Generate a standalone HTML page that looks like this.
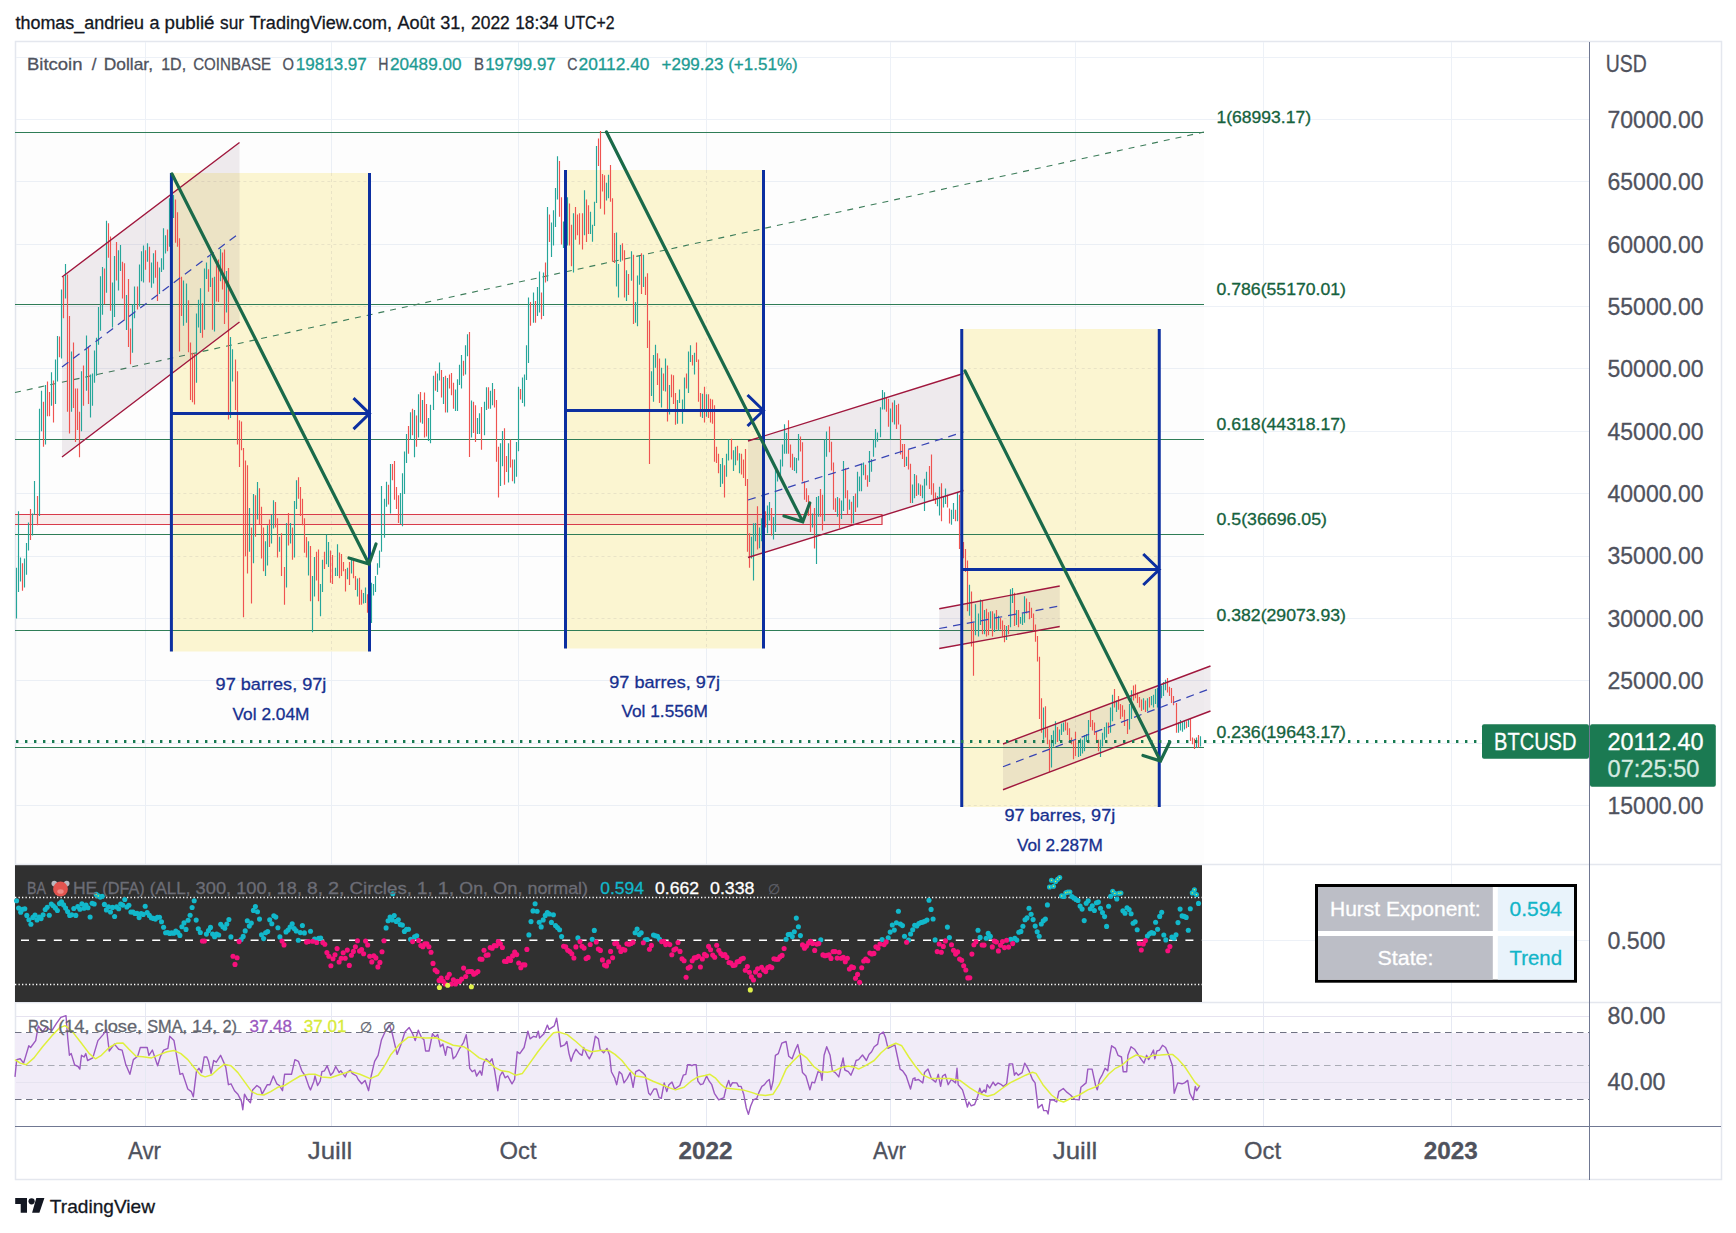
<!DOCTYPE html>
<html><head><meta charset="utf-8"><title>BTCUSD chart</title><style>html,body{margin:0;padding:0;background:#fff}svg{display:block}</style></head><body>
<svg width="1736" height="1233" viewBox="0 0 1736 1233" font-family='"Liberation Sans", sans-serif'>
<rect width="1736" height="1233" fill="#fff"/>
<rect x="15.5" y="41.5" width="1706" height="1138" fill="#fff" stroke="#e4e7ee" stroke-width="1.5"/>
<path d="M145.5 42V1126 M331.5 42V1126 M518.5 42V1126 M706.5 42V1126 M890.5 42V1126 M1075.5 42V1126 M1263.5 42V1126 M1451.5 42V1126 M16 57.5H1589 M16 119.5H1589 M16 181.5H1589 M16 244.5H1589 M16 306.5H1589 M16 368.5H1589 M16 431.5H1589 M16 493.5H1589 M16 556.5H1589 M16 618.5H1589 M16 680.5H1589 M16 743.5H1589 M16 805.5H1589 M16 940.5H1589 M16 1016.5H1589 M16 1082.5H1589" stroke="#edf1f7" stroke-width="1" fill="none"/>
<path d="M16 864.5H1721M16 1002.5H1721" stroke="#e4e7ee" stroke-width="1.5" fill="none"/>
<rect x="171.4" y="173" width="198.1" height="478.5" fill="#fdf7d3"/>
<rect x="565.5" y="170" width="198.0" height="478.5" fill="#fdf7d3"/>
<rect x="961.75" y="329" width="197.5" height="478" fill="#fdf7d3"/>
<rect x="15" y="132" width="1189" height="732" fill="#2f7d57" fill-opacity="0.011"/>
<path d="M331.5 173V651.5 M171.4 181.5H369.5 M171.4 244.5H369.5 M171.4 306.5H369.5 M171.4 368.5H369.5 M171.4 431.5H369.5 M171.4 493.5H369.5 M171.4 556.5H369.5 M171.4 618.5H369.5 M706.5 170V648.5 M565.5 181.5H763.5 M565.5 244.5H763.5 M565.5 306.5H763.5 M565.5 368.5H763.5 M565.5 431.5H763.5 M565.5 493.5H763.5 M565.5 556.5H763.5 M565.5 618.5H763.5 M1075.5 329V807 M961.75 368.5H1159.25 M961.75 431.5H1159.25 M961.75 493.5H1159.25 M961.75 556.5H1159.25 M961.75 618.5H1159.25 M961.75 680.5H1159.25 M961.75 743.5H1159.25 M961.75 805.5H1159.25" stroke="#e9e3c6" stroke-width="1" stroke-dasharray="3 3" fill="none"/>
<rect x="15" y="514.5" width="867" height="10" fill="#e9b0ac" fill-opacity="0.22" stroke="none"/>
<path d="M15 514.5H882V524.5H15" stroke="#d83a4a" stroke-width="1.2" fill="none"/>
<path d="M15 132.5H1204 M15 304.5H1204 M15 439.5H1204 M15 534.5H1204 M15 630.5H1204 M15 747.5H1204" stroke="#2f7d57" stroke-width="1" fill="none"/>
<path d="M15 392.5L1204 132" stroke="#3d7d5a" stroke-width="1.1" stroke-dasharray="6 6" fill="none"/>
<path d="M62 277L239.5 142.5L239.5 322L62 457Z" fill="#69415f" fill-opacity="0.1"/>
<path d="M748 441L963.5 373.5L963.5 490.5L748 557.5Z" fill="#69415f" fill-opacity="0.1"/>
<path d="M939.25 608.75L1059.75 586L1059.75 626.5L939.25 648.5Z" fill="#69415f" fill-opacity="0.1"/>
<path d="M1003 744L1210.5 666L1210.5 711L1003 789.75Z" fill="#69415f" fill-opacity="0.1"/>
<path d="M16.5 567.8V618.5M18.5 511.3V592.0M20.5 557.4V581.6M24.5 558.6V587.4M26.5 543.1V574.7M28.5 522.4V550.5M32.5 513.6V535.5M34.5 480.9V514.8M39.5 408.8V515.9M41.5 390.7V431.3M45.5 385.0V444.4M51.5 372.3V405.7M55.5 359.6V404.1M57.5 336.1V381.5M61.5 289.4V358.5M65.5 264.0V298.6M71.5 351.6V411.7M81.5 371.2V431.3M86.5 335.4V390.7M90.5 374.6V417.5M92.5 373.5V405.7M94.5 350.4V382.7M96.5 337.7V375.8M98.5 307.1V344.7M100.5 276.2V330.8M102.5 267.0V314.7M106.5 220.7V292.8M112.5 282.4V327.4M114.5 255.9V317.0M118.5 250.2V290.5M120.5 245.1V270.9M126.5 295.1V330.1M132.5 304.3V352.7M134.5 286.4V318.2M139.5 264.5V306.6M141.5 251.3V281.3M143.5 245.6V282.4M147.5 243.3V261.7M151.5 262.4V287.7M153.5 253.2V283.6M159.5 267.5V294.0M161.5 258.2V272.1M163.5 228.3V269.8M165.5 235.2V253.6M169.5 198.3V246.7M173.5 194.9V217.9M183.5 280.6V325.8M186.5 283.6V322.8M196.5 313.5V382.7M198.5 299.7V327.4M200.5 288.2V333.1M204.5 268.6V329.7M206.5 262.4V279.0M210.5 255.9V287.1M214.5 276.7V331.5M220.5 249.0V281.3M226.5 270.9V312.4M230.5 337.1V417.9M232.5 349.3V381.5M249.5 507.9V551.7M253.5 494.1V563.2M257.5 482.1V519.4M265.5 541.3V575.9M267.5 525.2V565.5M271.5 514.8V543.6M273.5 500.3V528.6M279.5 536.7V551.7M286.5 522.9V587.4M290.5 522.9V543.6M294.5 501.0V557.4M296.5 480.2V509.0M308.5 541.3V575.4M312.5 575.9V632.3M314.5 557.0V596.6M320.5 583.9V616.2M322.5 559.7V592.0M326.5 534.8V564.3M328.5 542.0V567.1M335.5 567.8V575.9M337.5 544.3V575.9M347.5 567.8V579.3M351.5 559.7V573.5M357.5 578.6V596.6M363.5 593.1V603.5M365.5 587.4V603.0M371.5 582.8V623.1M373.5 583.9V595.4M375.5 575.9V592.0M377.5 563.2V574.7M379.5 550.5V567.8M381.5 486.0V551.7M384.5 498.7V537.8M386.5 481.8V506.7M390.5 464.1V513.6M400.5 492.9V524.0M402.5 473.3V526.3M404.5 451.4V494.1M406.5 434.1V462.9M410.5 412.3V439.9M414.5 410.0V457.2M418.5 394.2V437.5M422.5 400.0V423.7M428.5 417.9V441.0M430.5 404.8V443.3M433.5 375.8V409.9M437.5 373.5V391.9M439.5 362.4V380.4M443.5 376.9V404.1M447.5 378.1V412.6M455.5 389.6V411.0M457.5 379.2V411.0M459.5 364.7V385.0M461.5 355.0V388.4M465.5 345.3V374.6M467.5 334.3V356.2M471.5 400.6V437.5M477.5 417.9V434.1M479.5 413.3V434.1M484.5 401.8V435.2M486.5 387.3V409.9M490.5 390.7V408.7M492.5 383.1V405.3M500.5 443.3V485.9M502.5 431.1V466.3M508.5 443.3V482.4M514.5 459.4V483.6M516.5 442.1V476.7M518.5 386.8V451.3M522.5 377.6V402.9M524.5 374.6V406.4M526.5 345.3V379.9M528.5 297.4V363.1M533.5 292.4V322.8M537.5 287.1V315.9M539.5 271.4V312.4M543.5 272.5V315.9M547.5 207.1V281.3M551.5 222.5V257.1M553.5 210.3V245.6M555.5 188.0V227.1M557.5 156.2V199.5M563.5 221.4V247.9M567.5 197.2V245.6M573.5 213.3V272.5M584.5 190.3V235.2M590.5 211.7V234.1M592.5 224.8V241.7M594.5 201.8V226.0M596.5 146.0V202.9M606.5 182.7V200.6M608.5 174.8V198.3M616.5 232.4V286.6M618.5 264.0V297.4M620.5 245.1V261.7M626.5 270.2V300.9M631.5 251.3V280.8M635.5 302.0V322.8M637.5 275.5V326.2M639.5 255.9V284.7M643.5 254.8V287.1M651.5 371.2V396.0M653.5 355.0V401.8M655.5 344.7V367.7M661.5 367.7V407.6M665.5 358.5V391.4M669.5 385.0V414.5M677.5 400.0V423.7M679.5 389.6V402.9M682.5 399.5V423.7M684.5 377.6V409.9M688.5 351.6V393.0M690.5 345.3V361.9M694.5 352.7V374.6M702.5 393.7V417.9M706.5 394.2V416.8M720.5 464.1V487.1M722.5 457.9V483.7M726.5 453.7V476.8M728.5 439.4V460.6M733.5 450.3V471.0M735.5 446.8V465.3M739.5 453.3V473.3M751.5 536.7V558.6M753.5 523.3V580.5M755.5 522.9V541.3M759.5 527.5V548.2M761.5 518.2V541.3M763.5 510.2V527.5M767.5 505.6V533.2M769.5 502.1V520.6M773.5 517.1V539.4M775.5 469.9V532.1M777.5 471.0V481.4M780.5 459.5V477.9M782.5 444.5V466.4M784.5 424.2V453.7M786.5 433.0V453.7M794.5 457.2V471.0M796.5 457.9V473.3M798.5 434.1V460.6M812.5 513.6V527.5M816.5 497.1V563.9M818.5 495.9V516.7M824.5 439.5V521.3M826.5 431.4V456.8M837.5 497.1V516.7M841.5 500.6V519.0M843.5 460.9V510.9M849.5 499.4V509.8M853.5 495.9V523.6M857.5 471.8V507.5M859.5 476.4V491.3M861.5 463.7V491.3M863.5 462.5V475.2M869.5 451.0V482.1M871.5 459.1V471.8M873.5 439.5V456.8M875.5 429.1V447.6M877.5 432.6V441.8M880.5 407.2V437.2M882.5 390.0V409.5M884.5 392.3V409.5M890.5 408.4V439.5M894.5 400.3V424.5M906.5 456.8V466.0M912.5 484.4V502.9M914.5 474.1V498.2M918.5 483.3V494.8M922.5 485.6V498.2M924.5 478.7V510.9M926.5 471.8V485.6M937.5 495.9V506.3M939.5 486.7V515.5M943.5 495.9V507.5M945.5 488.6V504.0M951.5 509.8V524.7M953.5 502.9V519.0M957.5 492.5V521.3M969.5 584.7V615.8M975.5 604.2V635.3M978.5 613.5V636.5M980.5 599.6V625.0M984.5 610.0V634.2M990.5 611.2V628.4M994.5 613.5V631.9M998.5 615.8V630.7M1006.5 626.1V640.0M1010.5 589.3V627.3M1012.5 588.1V603.1M1016.5 610.0V625.0M1020.5 616.9V623.8M1022.5 613.5V625.0M1024.5 596.2V622.7M1043.5 707.5V739.7M1051.5 735.1V767.4M1053.5 730.5V746.6M1055.5 721.3V744.3M1059.5 729.4V740.9M1061.5 723.6V735.1M1063.5 722.4V731.7M1078.5 742.0V757.0M1080.5 738.6V755.9M1082.5 739.7V753.5M1084.5 735.1V751.2M1086.5 734.0V742.0M1088.5 720.1V742.0M1100.5 739.7V757.0M1102.5 732.8V746.6M1104.5 727.1V739.7M1106.5 722.4V737.4M1110.5 707.5V732.8M1112.5 694.8V721.3M1116.5 700.6V712.1M1129.5 704.0V729.4M1131.5 690.2V719.0M1143.5 698.2V709.8M1147.5 698.2V710.9M1151.5 695.9V705.2M1153.5 694.8V707.5M1155.5 689.0V704.0M1157.5 687.9V707.5M1161.5 685.6V698.2M1163.5 682.1V695.9M1165.5 679.8V690.2M1178.5 722.4V732.8M1180.5 720.1V730.5M1182.5 721.3V731.7M1184.5 720.1V729.4M1188.5 720.1V727.1M1196.5 737.4V747.8M1200.5 736.3V746.6" stroke="#26a69a" stroke-width="1.15" fill="none"/>
<path d="M22.5 563.2V590.8M30.5 509.0V540.1M37.5 495.9V525.2M43.5 401.8V446.7M47.5 381.5V416.3M49.5 391.9V416.3M53.5 380.4V422.5M59.5 336.6V357.3M63.5 276.7V318.2M67.5 274.4V411.7M69.5 315.9V433.4M73.5 342.4V408.0M75.5 388.4V442.1M77.5 388.4V430.1M79.5 411.7V457.3M83.5 365.4V405.7M88.5 347.0V404.1M104.5 268.6V304.3M108.5 223.2V257.8M110.5 236.4V310.8M116.5 242.1V280.6M122.5 261.7V298.6M124.5 263.3V320.5M128.5 279.0V347.0M130.5 328.5V364.2M137.5 286.4V309.4M145.5 250.2V269.8M149.5 246.7V282.4M155.5 250.2V277.8M157.5 261.7V300.9M167.5 229.4V251.3M171.5 183.4V227.8M175.5 199.5V242.8M177.5 212.2V246.7M179.5 238.2V351.6M181.5 276.7V315.9M188.5 300.2V352.3M190.5 342.4V400.0M192.5 352.7V402.3M194.5 353.9V404.6M202.5 303.2V337.7M208.5 269.3V291.7M212.5 277.8V329.7M216.5 265.2V301.6M218.5 259.4V302.0M222.5 252.5V289.4M224.5 249.5V323.9M228.5 267.9V419.5M235.5 359.6V409.9M237.5 371.2V444.5M239.5 420.3V467.1M241.5 421.5V450.3M243.5 448.0V617.3M245.5 460.6V556.3M247.5 465.3V573.5M251.5 527.5V603.5M255.5 495.2V536.7M259.5 488.3V524.0M261.5 506.7V558.6M263.5 527.5V571.2M269.5 519.4V547.1M275.5 502.1V527.5M277.5 518.2V557.4M281.5 533.2V575.9M284.5 567.1V604.7M288.5 512.9V545.4M292.5 527.5V559.7M298.5 477.2V498.7M300.5 487.1V515.9M302.5 498.7V525.2M304.5 518.2V552.8M306.5 537.1V557.4M310.5 545.9V601.2M316.5 551.7V580.5M318.5 549.4V601.2M324.5 551.7V568.9M330.5 550.5V582.8M332.5 555.1V583.9M339.5 552.4V578.2M341.5 554.0V575.9M343.5 562.0V571.2M345.5 568.9V591.5M349.5 562.0V585.1M353.5 559.7V578.2M355.5 575.9V590.1M359.5 577.7V604.7M361.5 589.7V604.7M367.5 594.3V612.7M369.5 604.7V626.5M388.5 484.8V504.4M392.5 464.1V480.2M394.5 461.1V499.8M396.5 487.1V509.0M398.5 495.2V522.9M408.5 426.1V453.7M412.5 408.8V435.3M416.5 415.6V446.7M420.5 391.9V422.5M424.5 392.6V437.5M426.5 404.1V436.4M435.5 371.2V390.7M441.5 370.0V397.6M445.5 375.8V412.6M449.5 374.6V388.4M451.5 373.0V395.3M453.5 382.7V408.7M463.5 360.8V375.8M469.5 332.0V457.1M473.5 401.8V432.9M475.5 405.3V442.1M481.5 407.1V449.7M488.5 387.3V408.7M494.5 389.1V407.6M496.5 400.0V461.7M498.5 446.7V497.4M504.5 428.3V484.7M506.5 455.9V472.1M510.5 439.4V467.5M512.5 459.4V481.3M520.5 389.1V399.5M530.5 302.0V325.8M535.5 300.9V322.8M541.5 292.4V319.3M545.5 262.4V282.4M549.5 214.5V242.1M559.5 161.0V216.8M561.5 197.2V244.4M565.5 224.8V250.2M569.5 203.4V245.6M571.5 224.8V266.3M575.5 207.1V239.8M577.5 214.5V235.2M579.5 213.3V244.4M582.5 213.3V249.5M586.5 199.5V242.1M588.5 205.3V234.1M598.5 138.4V166.1M600.5 131.1V208.7M602.5 174.1V191.4M604.5 175.3V214.5M610.5 164.9V201.8M612.5 198.3V261.7M614.5 232.9V262.9M622.5 243.3V260.6M624.5 250.2V297.4M628.5 273.9V295.1M633.5 254.8V323.9M641.5 253.2V294.0M645.5 276.7V295.1M647.5 273.2V348.1M649.5 320.5V464.0M657.5 353.2V385.0M659.5 358.5V402.9M663.5 373.5V390.7M667.5 365.4V421.4M671.5 374.6V397.2M673.5 375.3V404.1M675.5 393.0V424.8M686.5 373.5V388.4M692.5 355.0V365.4M696.5 342.4V361.9M698.5 359.6V401.8M700.5 393.0V416.8M704.5 386.8V422.5M708.5 394.2V417.9M710.5 398.8V422.5M712.5 399.5V423.7M714.5 405.3V461.8M716.5 446.8V462.9M718.5 453.7V473.3M724.5 465.3V497.5M731.5 438.8V459.5M737.5 445.7V460.6M741.5 453.7V474.5M743.5 459.5V477.9M745.5 449.1V486.0M747.5 479.1V551.7M749.5 533.2V567.8M757.5 506.3V549.4M765.5 511.3V527.5M771.5 507.9V535.5M788.5 420.3V453.7M790.5 444.5V467.6M792.5 453.7V469.9M800.5 436.5V451.4M802.5 442.2V481.4M804.5 481.4V499.8M806.5 488.3V502.1M808.5 495.2V515.9M810.5 502.1V532.1M814.5 508.1V548.4M820.5 489.0V516.7M822.5 494.8V530.5M829.5 426.4V452.2M831.5 441.8V470.6M833.5 462.5V509.8M835.5 498.2V512.1M839.5 498.2V528.2M845.5 468.3V498.2M847.5 490.2V514.4M851.5 501.7V523.6M855.5 493.6V512.1M865.5 464.8V479.8M867.5 475.2V486.7M886.5 398.0V411.8M888.5 398.7V426.8M892.5 402.6V422.2M896.5 404.9V429.1M898.5 403.8V424.5M900.5 424.5V454.5M902.5 444.1V459.1M904.5 444.1V467.1M908.5 449.9V469.4M910.5 463.7V502.9M916.5 475.2V495.9M920.5 484.4V495.9M929.5 466.0V489.0M931.5 454.5V494.8M933.5 483.3V500.6M935.5 492.5V504.0M941.5 483.3V521.3M947.5 494.8V507.5M949.5 508.6V523.6M955.5 509.8V521.3M959.5 494.8V548.9M961.5 535.1V548.9M963.5 542.0V558.2M965.5 548.9V572.0M967.5 560.5V611.2M971.5 591.6V646.4M973.5 622.7V675.7M982.5 600.8V634.2M986.5 608.8V636.5M988.5 612.3V635.3M992.5 611.2V636.5M996.5 610.0V629.6M1000.5 618.1V629.6M1002.5 620.4V636.5M1004.5 625.0V642.3M1008.5 625.0V634.2M1014.5 592.7V626.1M1018.5 610.0V627.3M1026.5 598.5V613.5M1029.5 601.9V619.2M1031.5 607.7V618.1M1033.5 613.5V630.7M1035.5 624.5V641.8M1037.5 636.0V661.4M1039.5 656.8V719.0M1041.5 698.2V732.8M1045.5 706.3V737.4M1047.5 728.2V744.3M1049.5 739.7V772.0M1057.5 727.1V742.0M1065.5 720.1V730.5M1067.5 722.4V735.1M1069.5 728.2V742.0M1071.5 737.4V744.3M1073.5 740.9V759.3M1075.5 731.7V755.9M1090.5 710.9V727.1M1092.5 720.1V730.5M1094.5 722.4V735.1M1096.5 731.7V742.0M1098.5 739.7V751.2M1108.5 722.4V734.0M1114.5 689.0V707.5M1118.5 695.9V709.8M1120.5 704.0V719.0M1122.5 705.2V716.7M1124.5 709.8V725.9M1127.5 719.0V734.0M1133.5 685.6V700.6M1135.5 684.4V698.2M1137.5 692.5V702.9M1139.5 697.1V707.5M1141.5 699.4V710.9M1145.5 700.6V712.1M1149.5 697.1V707.5M1159.5 681.0V702.9M1167.5 678.0V692.5M1169.5 686.7V695.9M1171.5 687.9V702.9M1173.5 695.9V705.2M1176.5 702.9V732.8M1186.5 721.3V728.2M1190.5 719.0V740.9M1192.5 737.4V744.3M1194.5 738.6V748.9M1198.5 735.1V747.8" stroke="#ef5350" stroke-width="1.15" fill="none"/>
<path d="M62 277L239.5 142.5M62 457L239.5 322" stroke="#a0173d" stroke-width="1.4" fill="none"/>
<path d="M62 367L239.5 233" stroke="#3744b4" stroke-width="1.25" stroke-dasharray="8 6" fill="none"/>
<path d="M748 441L963.5 373.5M748 557.5L963.5 490.5" stroke="#a0173d" stroke-width="1.4" fill="none"/>
<path d="M748 500L963.5 432" stroke="#3744b4" stroke-width="1.25" stroke-dasharray="8 6" fill="none"/>
<path d="M939.25 608.75L1059.75 586M939.25 648.5L1059.75 626.5" stroke="#a0173d" stroke-width="1.4" fill="none"/>
<path d="M939.25 628.5L1059.75 606" stroke="#3744b4" stroke-width="1.25" stroke-dasharray="8 6" fill="none"/>
<path d="M1003 744L1210.5 666M1003 789.75L1210.5 711" stroke="#a0173d" stroke-width="1.4" fill="none"/>
<path d="M1003 766.75L1210.5 688.5" stroke="#3744b4" stroke-width="1.25" stroke-dasharray="8 6" fill="none"/>
<path d="M171.4 173V651.5M369.5 173V651.5M171.4 413.6H369.5M353.5 398.1L369.5 413.6L353.5 429.1" stroke="#0c2fa0" stroke-width="3" fill="none"/>
<path d="M565.5 170V648.5M763.5 170V648.5M565.5 410.5H763.5M747.5 395.0L763.5 410.5L747.5 426.0" stroke="#0c2fa0" stroke-width="3" fill="none"/>
<path d="M961.75 329V807M1159.25 329V807M961.75 569.5H1159.25M1143.25 554.0L1159.25 569.5L1143.25 585.0" stroke="#0c2fa0" stroke-width="3" fill="none"/>
<path d="M172 174L369 564M376 544L369 564L349 558" stroke="#1a6a4a" stroke-width="3.2" fill="none" stroke-linecap="round"/>
<path d="M606.5 132L802.75 521.75M809.75 503L802.75 521.75L784 516" stroke="#1a6a4a" stroke-width="3.2" fill="none" stroke-linecap="round"/>
<path d="M965 371L1160.5 761M1169.75 742L1160.5 761L1143 755.5" stroke="#1a6a4a" stroke-width="3.2" fill="none" stroke-linecap="round"/>
<path d="M16 741.5H1478" stroke="#187a52" stroke-width="3" stroke-dasharray="2.4 6.6" fill="none"/>
<text x="15.5" y="29.0" font-size="18" fill="#131722" stroke="#131722" stroke-width="0.3" textLength="128.5" lengthAdjust="spacingAndGlyphs">thomas_andrieu</text>
<text x="149.5" y="29.0" font-size="18" fill="#131722" stroke="#131722" stroke-width="0.3">a</text>
<text x="164.5" y="29.0" font-size="18" fill="#131722" stroke="#131722" stroke-width="0.3" textLength="50.0" lengthAdjust="spacingAndGlyphs">publié</text>
<text x="220.0" y="29.0" font-size="18" fill="#131722" stroke="#131722" stroke-width="0.3" textLength="24.0" lengthAdjust="spacingAndGlyphs">sur</text>
<text x="249.5" y="29.0" font-size="18" fill="#131722" stroke="#131722" stroke-width="0.3" textLength="142.5" lengthAdjust="spacingAndGlyphs">TradingView.com,</text>
<text x="397.5" y="29.0" font-size="18" fill="#131722" stroke="#131722" stroke-width="0.3" textLength="37.2" lengthAdjust="spacingAndGlyphs">Août</text>
<text x="440.2" y="29.0" font-size="18" fill="#131722" stroke="#131722" stroke-width="0.3" textLength="25.2" lengthAdjust="spacingAndGlyphs">31,</text>
<text x="471.0" y="29.0" font-size="18" fill="#131722" stroke="#131722" stroke-width="0.3" textLength="38.8" lengthAdjust="spacingAndGlyphs">2022</text>
<text x="515.2" y="29.0" font-size="18" fill="#131722" stroke="#131722" stroke-width="0.3" textLength="43.2" lengthAdjust="spacingAndGlyphs">18:34</text>
<text x="564.0" y="29.0" font-size="18" fill="#131722" stroke="#131722" stroke-width="0.3" textLength="50.5" lengthAdjust="spacingAndGlyphs">UTC+2</text>
<text x="27.0" y="69.5" font-size="17" fill="#4f525d" stroke="#4f525d" stroke-width="0.3" textLength="55.5" lengthAdjust="spacingAndGlyphs">Bitcoin</text>
<text x="91.8" y="69.5" font-size="17" fill="#4f525d" stroke="#4f525d" stroke-width="0.3">/</text>
<text x="103.8" y="69.5" font-size="17" fill="#4f525d" stroke="#4f525d" stroke-width="0.3" textLength="49.2" lengthAdjust="spacingAndGlyphs">Dollar,</text>
<text x="161.2" y="69.5" font-size="17" fill="#4f525d" stroke="#4f525d" stroke-width="0.3" textLength="24.9" lengthAdjust="spacingAndGlyphs">1D,</text>
<text x="193.2" y="69.5" font-size="17" fill="#4f525d" stroke="#4f525d" stroke-width="0.3" textLength="78.0" lengthAdjust="spacingAndGlyphs">COINBASE</text>
<text x="282.5" y="69.5" font-size="17" fill="#4f525d" stroke="#4f525d" stroke-width="0.3" textLength="11.5" lengthAdjust="spacingAndGlyphs">O</text>
<text x="295.8" y="69.5" font-size="17" fill="#1d9b93" stroke="#1d9b93" stroke-width="0.3" textLength="71.0" lengthAdjust="spacingAndGlyphs">19813.97</text>
<text x="378.2" y="69.5" font-size="17" fill="#4f525d" stroke="#4f525d" stroke-width="0.3" textLength="10.2" lengthAdjust="spacingAndGlyphs">H</text>
<text x="390.0" y="69.5" font-size="17" fill="#1d9b93" stroke="#1d9b93" stroke-width="0.3" textLength="71.5" lengthAdjust="spacingAndGlyphs">20489.00</text>
<text x="474.0" y="69.5" font-size="17" fill="#4f525d" stroke="#4f525d" stroke-width="0.3" textLength="10.0" lengthAdjust="spacingAndGlyphs">B</text>
<text x="485.2" y="69.5" font-size="17" fill="#1d9b93" stroke="#1d9b93" stroke-width="0.3" textLength="70.5" lengthAdjust="spacingAndGlyphs">19799.97</text>
<text x="567.2" y="69.5" font-size="17" fill="#4f525d" stroke="#4f525d" stroke-width="0.3" textLength="10.2" lengthAdjust="spacingAndGlyphs">C</text>
<text x="578.5" y="69.5" font-size="17" fill="#1d9b93" stroke="#1d9b93" stroke-width="0.3" textLength="71.0" lengthAdjust="spacingAndGlyphs">20112.40</text>
<text x="661.5" y="69.5" font-size="17" fill="#1d9b93" stroke="#1d9b93" stroke-width="0.3" textLength="136.2" lengthAdjust="spacingAndGlyphs">+299.23 (+1.51%)</text>
<text x="1216.5" y="122.7" font-size="17" fill="#15623d" stroke="#15623d" stroke-width="0.3" textLength="94.5" lengthAdjust="spacingAndGlyphs">1(68993.17)</text>
<text x="1216.5" y="294.7" font-size="17" fill="#15623d" stroke="#15623d" stroke-width="0.3" textLength="129.5" lengthAdjust="spacingAndGlyphs">0.786(55170.01)</text>
<text x="1216.5" y="429.7" font-size="17" fill="#15623d" stroke="#15623d" stroke-width="0.3" textLength="129.5" lengthAdjust="spacingAndGlyphs">0.618(44318.17)</text>
<text x="1216.5" y="524.7" font-size="17" fill="#15623d" stroke="#15623d" stroke-width="0.3" textLength="110.5" lengthAdjust="spacingAndGlyphs">0.5(36696.05)</text>
<text x="1216.5" y="620.7" font-size="17" fill="#15623d" stroke="#15623d" stroke-width="0.3" textLength="129.5" lengthAdjust="spacingAndGlyphs">0.382(29073.93)</text>
<text x="1216.5" y="737.7" font-size="17" fill="#15623d" stroke="#15623d" stroke-width="0.3" textLength="129.5" lengthAdjust="spacingAndGlyphs">0.236(19643.17)</text>
<text x="215.6" y="690.0" font-size="17" fill="#17308f" stroke="#17308f" stroke-width="0.3" textLength="110.8" lengthAdjust="spacingAndGlyphs">97 barres, 97j</text>
<text x="232.5" y="720.0" font-size="17" fill="#17308f" stroke="#17308f" stroke-width="0.3" textLength="77.0" lengthAdjust="spacingAndGlyphs">Vol 2.04M</text>
<text x="609.2" y="687.8" font-size="17" fill="#17308f" stroke="#17308f" stroke-width="0.3" textLength="110.8" lengthAdjust="spacingAndGlyphs">97 barres, 97j</text>
<text x="621.4" y="717.2" font-size="17" fill="#17308f" stroke="#17308f" stroke-width="0.3" textLength="86.5" lengthAdjust="spacingAndGlyphs">Vol 1.556M</text>
<text x="1004.5" y="820.5" font-size="17" fill="#17308f" stroke="#17308f" stroke-width="0.3" textLength="110.8" lengthAdjust="spacingAndGlyphs">97 barres, 97j</text>
<text x="1016.9" y="850.5" font-size="17" fill="#17308f" stroke="#17308f" stroke-width="0.3" textLength="86.0" lengthAdjust="spacingAndGlyphs">Vol 2.287M</text>
<rect x="15" y="865.2" width="1187" height="136.8" fill="#303030"/>
<path d="M15 897.5H1202M15 984.5H1202" stroke="#fff" stroke-width="1.3" stroke-dasharray="1.3 2.2" fill="none"/>
<path d="M21 940.3H1202" stroke="#fff" stroke-width="1.5" stroke-dasharray="8 8.4" fill="none"/>
<g fill="#12b8cb"><circle cx="16.6" cy="900.8" r="2.55"/><circle cx="18.6" cy="908.1" r="2.55"/><circle cx="20.7" cy="912.3" r="2.55"/><circle cx="22.7" cy="909.2" r="2.55"/><circle cx="24.8" cy="908.7" r="2.55"/><circle cx="26.8" cy="915.4" r="2.55"/><circle cx="28.9" cy="919.7" r="2.55"/><circle cx="30.9" cy="924.3" r="2.55"/><circle cx="32.9" cy="917.4" r="2.55"/><circle cx="35.0" cy="915.1" r="2.55"/><circle cx="37.0" cy="919.9" r="2.55"/><circle cx="39.1" cy="917.0" r="2.55"/><circle cx="41.1" cy="918.6" r="2.55"/><circle cx="43.1" cy="914.8" r="2.55"/><circle cx="45.2" cy="909.5" r="2.55"/><circle cx="47.2" cy="907.2" r="2.55"/><circle cx="49.3" cy="915.3" r="2.55"/><circle cx="51.3" cy="904.0" r="2.55"/><circle cx="53.3" cy="905.7" r="2.55"/><circle cx="55.4" cy="907.9" r="2.55"/><circle cx="57.4" cy="910.5" r="2.55"/><circle cx="59.5" cy="903.6" r="2.55"/><circle cx="61.5" cy="901.9" r="2.55"/><circle cx="63.6" cy="904.9" r="2.55"/><circle cx="65.6" cy="908.1" r="2.55"/><circle cx="67.6" cy="911.6" r="2.55"/><circle cx="69.7" cy="915.4" r="2.55"/><circle cx="71.7" cy="914.7" r="2.55"/><circle cx="73.8" cy="908.5" r="2.55"/><circle cx="75.8" cy="915.4" r="2.55"/><circle cx="77.8" cy="906.6" r="2.55"/><circle cx="79.9" cy="909.3" r="2.55"/><circle cx="81.9" cy="903.9" r="2.55"/><circle cx="84.0" cy="908.3" r="2.55"/><circle cx="86.0" cy="905.0" r="2.55"/><circle cx="88.0" cy="907.8" r="2.55"/><circle cx="90.1" cy="917.0" r="2.55"/><circle cx="92.1" cy="903.3" r="2.55"/><circle cx="94.2" cy="904.0" r="2.55"/><circle cx="100.3" cy="897.1" r="2.55"/><circle cx="102.3" cy="896.3" r="2.55"/><circle cx="104.4" cy="904.4" r="2.55"/><circle cx="106.4" cy="909.9" r="2.55"/><circle cx="108.5" cy="906.7" r="2.55"/><circle cx="110.5" cy="912.0" r="2.55"/><circle cx="112.5" cy="907.4" r="2.55"/><circle cx="114.6" cy="916.5" r="2.55"/><circle cx="116.6" cy="906.9" r="2.55"/><circle cx="118.7" cy="908.7" r="2.55"/><circle cx="120.7" cy="904.1" r="2.55"/><circle cx="122.7" cy="905.1" r="2.55"/><circle cx="124.8" cy="899.5" r="2.55"/><circle cx="126.8" cy="907.0" r="2.55"/><circle cx="128.9" cy="905.2" r="2.55"/><circle cx="130.9" cy="912.0" r="2.55"/><circle cx="133.0" cy="912.0" r="2.55"/><circle cx="135.0" cy="913.5" r="2.55"/><circle cx="137.0" cy="913.4" r="2.55"/><circle cx="139.1" cy="917.6" r="2.55"/><circle cx="141.1" cy="913.5" r="2.55"/><circle cx="143.2" cy="914.4" r="2.55"/><circle cx="145.2" cy="906.3" r="2.55"/><circle cx="147.2" cy="912.5" r="2.55"/><circle cx="149.3" cy="915.4" r="2.55"/><circle cx="151.3" cy="917.7" r="2.55"/><circle cx="153.4" cy="918.4" r="2.55"/><circle cx="155.4" cy="919.1" r="2.55"/><circle cx="157.4" cy="917.2" r="2.55"/><circle cx="159.5" cy="917.3" r="2.55"/><circle cx="161.5" cy="921.7" r="2.55"/><circle cx="163.6" cy="927.3" r="2.55"/><circle cx="165.6" cy="932.7" r="2.55"/><circle cx="167.7" cy="932.6" r="2.55"/><circle cx="169.7" cy="933.4" r="2.55"/><circle cx="171.7" cy="932.9" r="2.55"/><circle cx="173.8" cy="933.2" r="2.55"/><circle cx="175.8" cy="931.0" r="2.55"/><circle cx="177.9" cy="932.5" r="2.55"/><circle cx="179.9" cy="935.4" r="2.55"/><circle cx="181.9" cy="926.7" r="2.55"/><circle cx="184.0" cy="922.9" r="2.55"/><circle cx="186.0" cy="929.4" r="2.55"/><circle cx="188.1" cy="920.3" r="2.55"/><circle cx="190.1" cy="915.3" r="2.55"/><circle cx="192.1" cy="907.5" r="2.55"/><circle cx="194.2" cy="900.8" r="2.55"/><circle cx="196.2" cy="920.1" r="2.55"/><circle cx="198.3" cy="928.7" r="2.55"/><circle cx="200.3" cy="932.5" r="2.55"/><circle cx="206.4" cy="934.1" r="2.55"/><circle cx="208.5" cy="930.6" r="2.55"/><circle cx="210.5" cy="927.4" r="2.55"/><circle cx="212.6" cy="934.0" r="2.55"/><circle cx="214.6" cy="936.7" r="2.55"/><circle cx="216.6" cy="934.1" r="2.55"/><circle cx="218.7" cy="935.0" r="2.55"/><circle cx="220.7" cy="924.2" r="2.55"/><circle cx="222.8" cy="926.7" r="2.55"/><circle cx="224.8" cy="928.3" r="2.55"/><circle cx="226.8" cy="924.1" r="2.55"/><circle cx="228.9" cy="919.5" r="2.55"/><circle cx="230.9" cy="936.9" r="2.55"/><circle cx="241.1" cy="939.5" r="2.55"/><circle cx="243.2" cy="936.4" r="2.55"/><circle cx="245.2" cy="930.9" r="2.55"/><circle cx="247.3" cy="920.7" r="2.55"/><circle cx="249.3" cy="926.1" r="2.55"/><circle cx="251.3" cy="923.0" r="2.55"/><circle cx="253.4" cy="910.4" r="2.55"/><circle cx="255.4" cy="906.5" r="2.55"/><circle cx="257.5" cy="911.8" r="2.55"/><circle cx="259.5" cy="919.1" r="2.55"/><circle cx="261.5" cy="934.8" r="2.55"/><circle cx="263.6" cy="938.6" r="2.55"/><circle cx="265.6" cy="932.8" r="2.55"/><circle cx="267.7" cy="931.5" r="2.55"/><circle cx="269.7" cy="919.8" r="2.55"/><circle cx="271.8" cy="923.7" r="2.55"/><circle cx="273.8" cy="915.7" r="2.55"/><circle cx="275.8" cy="917.1" r="2.55"/><circle cx="277.9" cy="927.7" r="2.55"/><circle cx="279.9" cy="936.9" r="2.55"/><circle cx="286.0" cy="931.9" r="2.55"/><circle cx="288.1" cy="930.1" r="2.55"/><circle cx="290.1" cy="927.0" r="2.55"/><circle cx="292.2" cy="923.9" r="2.55"/><circle cx="294.2" cy="928.6" r="2.55"/><circle cx="296.2" cy="930.9" r="2.55"/><circle cx="298.3" cy="940.2" r="2.55"/><circle cx="300.3" cy="932.6" r="2.55"/><circle cx="302.4" cy="925.5" r="2.55"/><circle cx="304.4" cy="932.9" r="2.55"/><circle cx="310.5" cy="931.2" r="2.55"/><circle cx="314.6" cy="939.1" r="2.55"/><circle cx="318.7" cy="938.2" r="2.55"/><circle cx="320.7" cy="938.1" r="2.55"/><circle cx="386.1" cy="927.9" r="2.55"/><circle cx="388.1" cy="920.8" r="2.55"/><circle cx="390.1" cy="917.1" r="2.55"/><circle cx="392.2" cy="919.9" r="2.55"/><circle cx="394.2" cy="915.5" r="2.55"/><circle cx="396.3" cy="921.4" r="2.55"/><circle cx="398.3" cy="919.8" r="2.55"/><circle cx="400.3" cy="924.6" r="2.55"/><circle cx="402.4" cy="925.1" r="2.55"/><circle cx="404.4" cy="931.4" r="2.55"/><circle cx="406.5" cy="929.3" r="2.55"/><circle cx="408.5" cy="929.3" r="2.55"/><circle cx="410.6" cy="939.2" r="2.55"/><circle cx="414.6" cy="936.8" r="2.55"/><circle cx="416.7" cy="935.7" r="2.55"/><circle cx="528.9" cy="934.9" r="2.55"/><circle cx="531.0" cy="921.6" r="2.55"/><circle cx="533.0" cy="910.9" r="2.55"/><circle cx="535.1" cy="903.7" r="2.55"/><circle cx="537.1" cy="911.2" r="2.55"/><circle cx="539.2" cy="922.2" r="2.55"/><circle cx="541.2" cy="926.9" r="2.55"/><circle cx="543.2" cy="919.9" r="2.55"/><circle cx="545.3" cy="915.4" r="2.55"/><circle cx="547.3" cy="912.5" r="2.55"/><circle cx="549.4" cy="914.0" r="2.55"/><circle cx="551.4" cy="922.4" r="2.55"/><circle cx="553.4" cy="914.7" r="2.55"/><circle cx="555.5" cy="925.6" r="2.55"/><circle cx="557.5" cy="927.6" r="2.55"/><circle cx="559.6" cy="929.7" r="2.55"/><circle cx="561.6" cy="936.6" r="2.55"/><circle cx="577.9" cy="937.9" r="2.55"/><circle cx="592.2" cy="939.3" r="2.55"/><circle cx="594.3" cy="930.4" r="2.55"/><circle cx="635.1" cy="932.8" r="2.55"/><circle cx="637.1" cy="929.1" r="2.55"/><circle cx="639.2" cy="934.6" r="2.55"/><circle cx="641.2" cy="932.8" r="2.55"/><circle cx="645.3" cy="939.8" r="2.55"/><circle cx="647.3" cy="939.5" r="2.55"/><circle cx="653.5" cy="935.0" r="2.55"/><circle cx="655.5" cy="935.7" r="2.55"/><circle cx="657.5" cy="936.3" r="2.55"/><circle cx="659.6" cy="939.2" r="2.55"/><circle cx="786.1" cy="939.3" r="2.55"/><circle cx="788.2" cy="934.6" r="2.55"/><circle cx="790.2" cy="934.4" r="2.55"/><circle cx="792.3" cy="936.6" r="2.55"/><circle cx="794.3" cy="931.7" r="2.55"/><circle cx="796.3" cy="918.1" r="2.55"/><circle cx="798.4" cy="926.7" r="2.55"/><circle cx="800.4" cy="935.6" r="2.55"/><circle cx="820.8" cy="939.7" r="2.55"/><circle cx="882.1" cy="939.5" r="2.55"/><circle cx="888.2" cy="937.8" r="2.55"/><circle cx="890.2" cy="932.1" r="2.55"/><circle cx="892.3" cy="925.0" r="2.55"/><circle cx="894.3" cy="930.1" r="2.55"/><circle cx="896.4" cy="922.8" r="2.55"/><circle cx="898.4" cy="911.3" r="2.55"/><circle cx="900.4" cy="924.0" r="2.55"/><circle cx="902.5" cy="925.6" r="2.55"/><circle cx="904.5" cy="936.2" r="2.55"/><circle cx="908.6" cy="940.0" r="2.55"/><circle cx="910.6" cy="934.0" r="2.55"/><circle cx="912.7" cy="929.7" r="2.55"/><circle cx="914.7" cy="925.2" r="2.55"/><circle cx="916.8" cy="926.0" r="2.55"/><circle cx="918.8" cy="923.6" r="2.55"/><circle cx="920.9" cy="922.5" r="2.55"/><circle cx="922.9" cy="922.1" r="2.55"/><circle cx="924.9" cy="921.3" r="2.55"/><circle cx="927.0" cy="920.0" r="2.55"/><circle cx="929.0" cy="900.3" r="2.55"/><circle cx="931.1" cy="909.4" r="2.55"/><circle cx="933.1" cy="919.0" r="2.55"/><circle cx="935.1" cy="939.9" r="2.55"/><circle cx="947.4" cy="927.1" r="2.55"/><circle cx="949.4" cy="937.6" r="2.55"/><circle cx="978.0" cy="930.2" r="2.55"/><circle cx="980.1" cy="937.4" r="2.55"/><circle cx="986.2" cy="938.2" r="2.55"/><circle cx="988.2" cy="933.4" r="2.55"/><circle cx="990.3" cy="936.4" r="2.55"/><circle cx="1010.7" cy="939.3" r="2.55"/><circle cx="1014.8" cy="938.4" r="2.55"/><circle cx="1016.8" cy="940.1" r="2.55"/><circle cx="1018.8" cy="932.3" r="2.55"/><circle cx="1020.9" cy="931.4" r="2.55"/><circle cx="1022.9" cy="926.3" r="2.55"/><circle cx="1025.0" cy="919.8" r="2.55"/><circle cx="1027.0" cy="917.9" r="2.55"/><circle cx="1029.0" cy="908.2" r="2.55"/><circle cx="1031.1" cy="914.3" r="2.55"/><circle cx="1033.1" cy="919.6" r="2.55"/><circle cx="1035.2" cy="926.1" r="2.55"/><circle cx="1037.2" cy="931.8" r="2.55"/><circle cx="1039.2" cy="936.3" r="2.55"/><circle cx="1041.3" cy="924.0" r="2.55"/><circle cx="1043.3" cy="920.8" r="2.55"/><circle cx="1045.4" cy="919.1" r="2.55"/><circle cx="1047.4" cy="904.9" r="2.55"/><circle cx="1063.7" cy="896.5" r="2.55"/><circle cx="1071.9" cy="896.5" r="2.55"/><circle cx="1073.9" cy="898.0" r="2.55"/><circle cx="1076.0" cy="899.5" r="2.55"/><circle cx="1078.0" cy="900.5" r="2.55"/><circle cx="1080.1" cy="906.1" r="2.55"/><circle cx="1082.1" cy="909.1" r="2.55"/><circle cx="1084.2" cy="920.6" r="2.55"/><circle cx="1086.2" cy="903.3" r="2.55"/><circle cx="1088.2" cy="900.7" r="2.55"/><circle cx="1090.3" cy="908.7" r="2.55"/><circle cx="1092.3" cy="905.8" r="2.55"/><circle cx="1094.4" cy="910.5" r="2.55"/><circle cx="1096.4" cy="902.8" r="2.55"/><circle cx="1098.4" cy="902.1" r="2.55"/><circle cx="1100.5" cy="908.2" r="2.55"/><circle cx="1102.5" cy="912.6" r="2.55"/><circle cx="1104.6" cy="916.6" r="2.55"/><circle cx="1106.6" cy="926.4" r="2.55"/><circle cx="1108.6" cy="906.2" r="2.55"/><circle cx="1110.7" cy="896.2" r="2.55"/><circle cx="1116.8" cy="899.0" r="2.55"/><circle cx="1122.9" cy="910.8" r="2.55"/><circle cx="1125.0" cy="913.2" r="2.55"/><circle cx="1127.0" cy="907.8" r="2.55"/><circle cx="1129.1" cy="909.6" r="2.55"/><circle cx="1131.1" cy="913.7" r="2.55"/><circle cx="1133.1" cy="923.2" r="2.55"/><circle cx="1135.2" cy="921.7" r="2.55"/><circle cx="1137.2" cy="929.7" r="2.55"/><circle cx="1147.4" cy="936.0" r="2.55"/><circle cx="1149.5" cy="933.8" r="2.55"/><circle cx="1151.5" cy="932.6" r="2.55"/><circle cx="1153.6" cy="933.3" r="2.55"/><circle cx="1155.6" cy="922.2" r="2.55"/><circle cx="1157.6" cy="929.2" r="2.55"/><circle cx="1159.7" cy="916.4" r="2.55"/><circle cx="1161.7" cy="912.2" r="2.55"/><circle cx="1163.8" cy="935.0" r="2.55"/><circle cx="1165.8" cy="939.9" r="2.55"/><circle cx="1171.9" cy="937.1" r="2.55"/><circle cx="1174.0" cy="938.2" r="2.55"/><circle cx="1176.0" cy="934.7" r="2.55"/><circle cx="1178.0" cy="922.6" r="2.55"/><circle cx="1180.1" cy="909.1" r="2.55"/><circle cx="1182.1" cy="915.9" r="2.55"/><circle cx="1184.2" cy="916.4" r="2.55"/><circle cx="1186.2" cy="917.4" r="2.55"/><circle cx="1188.3" cy="930.3" r="2.55"/><circle cx="1190.3" cy="908.7" r="2.55"/><circle cx="1198.5" cy="903.4" r="2.55"/><circle cx="392.8" cy="893.7" r="2.55"/></g>
<g fill="#f7107c"><circle cx="202.4" cy="941.0" r="2.55"/><circle cx="204.4" cy="941.0" r="2.55"/><circle cx="233.0" cy="956.3" r="2.55"/><circle cx="235.0" cy="964.4" r="2.55"/><circle cx="237.1" cy="957.7" r="2.55"/><circle cx="239.1" cy="941.6" r="2.55"/><circle cx="282.0" cy="941.1" r="2.55"/><circle cx="284.0" cy="944.9" r="2.55"/><circle cx="306.5" cy="942.1" r="2.55"/><circle cx="308.5" cy="941.5" r="2.55"/><circle cx="312.6" cy="941.2" r="2.55"/><circle cx="316.7" cy="942.5" r="2.55"/><circle cx="322.8" cy="942.5" r="2.55"/><circle cx="324.8" cy="944.3" r="2.55"/><circle cx="326.9" cy="952.6" r="2.55"/><circle cx="328.9" cy="956.3" r="2.55"/><circle cx="330.9" cy="965.8" r="2.55"/><circle cx="333.0" cy="958.7" r="2.55"/><circle cx="335.0" cy="954.7" r="2.55"/><circle cx="337.1" cy="948.6" r="2.55"/><circle cx="339.1" cy="962.0" r="2.55"/><circle cx="341.2" cy="958.3" r="2.55"/><circle cx="343.2" cy="952.7" r="2.55"/><circle cx="345.2" cy="958.2" r="2.55"/><circle cx="347.3" cy="950.1" r="2.55"/><circle cx="349.3" cy="965.4" r="2.55"/><circle cx="351.4" cy="955.3" r="2.55"/><circle cx="353.4" cy="951.4" r="2.55"/><circle cx="355.4" cy="946.8" r="2.55"/><circle cx="357.5" cy="940.8" r="2.55"/><circle cx="359.5" cy="951.1" r="2.55"/><circle cx="361.6" cy="949.6" r="2.55"/><circle cx="363.6" cy="953.8" r="2.55"/><circle cx="365.6" cy="941.1" r="2.55"/><circle cx="367.7" cy="945.0" r="2.55"/><circle cx="369.7" cy="956.3" r="2.55"/><circle cx="371.8" cy="961.9" r="2.55"/><circle cx="373.8" cy="955.7" r="2.55"/><circle cx="375.9" cy="957.9" r="2.55"/><circle cx="377.9" cy="966.9" r="2.55"/><circle cx="379.9" cy="962.4" r="2.55"/><circle cx="382.0" cy="951.7" r="2.55"/><circle cx="384.0" cy="940.8" r="2.55"/><circle cx="412.6" cy="941.6" r="2.55"/><circle cx="418.7" cy="940.5" r="2.55"/><circle cx="420.8" cy="945.5" r="2.55"/><circle cx="422.8" cy="946.8" r="2.55"/><circle cx="424.8" cy="943.9" r="2.55"/><circle cx="426.9" cy="943.9" r="2.55"/><circle cx="428.9" cy="946.7" r="2.55"/><circle cx="431.0" cy="952.3" r="2.55"/><circle cx="433.0" cy="963.4" r="2.55"/><circle cx="435.1" cy="970.1" r="2.55"/><circle cx="437.1" cy="971.8" r="2.55"/><circle cx="439.1" cy="980.4" r="2.55"/><circle cx="441.2" cy="978.1" r="2.55"/><circle cx="443.2" cy="981.3" r="2.55"/><circle cx="445.3" cy="984.0" r="2.55"/><circle cx="447.3" cy="977.6" r="2.55"/><circle cx="449.3" cy="974.2" r="2.55"/><circle cx="451.4" cy="984.0" r="2.55"/><circle cx="453.4" cy="979.8" r="2.55"/><circle cx="455.5" cy="984.0" r="2.55"/><circle cx="457.5" cy="981.3" r="2.55"/><circle cx="459.5" cy="981.5" r="2.55"/><circle cx="461.6" cy="979.1" r="2.55"/><circle cx="463.6" cy="968.1" r="2.55"/><circle cx="465.7" cy="976.5" r="2.55"/><circle cx="467.7" cy="971.8" r="2.55"/><circle cx="469.8" cy="971.5" r="2.55"/><circle cx="471.8" cy="971.6" r="2.55"/><circle cx="473.8" cy="974.2" r="2.55"/><circle cx="475.9" cy="973.0" r="2.55"/><circle cx="477.9" cy="971.5" r="2.55"/><circle cx="480.0" cy="959.0" r="2.55"/><circle cx="482.0" cy="959.2" r="2.55"/><circle cx="484.0" cy="950.3" r="2.55"/><circle cx="486.1" cy="955.3" r="2.55"/><circle cx="488.1" cy="954.9" r="2.55"/><circle cx="490.2" cy="947.6" r="2.55"/><circle cx="492.2" cy="948.3" r="2.55"/><circle cx="494.2" cy="945.6" r="2.55"/><circle cx="496.3" cy="945.7" r="2.55"/><circle cx="498.3" cy="941.5" r="2.55"/><circle cx="500.4" cy="943.8" r="2.55"/><circle cx="502.4" cy="947.5" r="2.55"/><circle cx="504.5" cy="961.2" r="2.55"/><circle cx="506.5" cy="961.4" r="2.55"/><circle cx="508.5" cy="958.6" r="2.55"/><circle cx="510.6" cy="960.4" r="2.55"/><circle cx="512.6" cy="955.9" r="2.55"/><circle cx="514.7" cy="952.1" r="2.55"/><circle cx="516.7" cy="954.6" r="2.55"/><circle cx="518.7" cy="963.0" r="2.55"/><circle cx="520.8" cy="967.7" r="2.55"/><circle cx="522.8" cy="964.7" r="2.55"/><circle cx="524.9" cy="964.9" r="2.55"/><circle cx="526.9" cy="949.4" r="2.55"/><circle cx="563.6" cy="946.2" r="2.55"/><circle cx="565.7" cy="946.9" r="2.55"/><circle cx="567.7" cy="950.3" r="2.55"/><circle cx="569.8" cy="951.5" r="2.55"/><circle cx="571.8" cy="953.8" r="2.55"/><circle cx="573.9" cy="958.0" r="2.55"/><circle cx="575.9" cy="946.9" r="2.55"/><circle cx="580.0" cy="941.6" r="2.55"/><circle cx="582.0" cy="946.2" r="2.55"/><circle cx="584.1" cy="948.1" r="2.55"/><circle cx="586.1" cy="958.6" r="2.55"/><circle cx="588.1" cy="957.4" r="2.55"/><circle cx="590.2" cy="944.5" r="2.55"/><circle cx="596.3" cy="942.0" r="2.55"/><circle cx="598.3" cy="949.0" r="2.55"/><circle cx="600.4" cy="950.4" r="2.55"/><circle cx="602.4" cy="959.9" r="2.55"/><circle cx="604.5" cy="965.1" r="2.55"/><circle cx="606.5" cy="965.9" r="2.55"/><circle cx="608.6" cy="961.7" r="2.55"/><circle cx="610.6" cy="951.4" r="2.55"/><circle cx="612.6" cy="957.8" r="2.55"/><circle cx="614.7" cy="943.6" r="2.55"/><circle cx="616.7" cy="943.3" r="2.55"/><circle cx="618.8" cy="946.9" r="2.55"/><circle cx="620.8" cy="951.4" r="2.55"/><circle cx="622.8" cy="949.4" r="2.55"/><circle cx="624.9" cy="950.1" r="2.55"/><circle cx="626.9" cy="943.8" r="2.55"/><circle cx="629.0" cy="944.2" r="2.55"/><circle cx="631.0" cy="943.5" r="2.55"/><circle cx="633.0" cy="942.2" r="2.55"/><circle cx="643.3" cy="942.8" r="2.55"/><circle cx="649.4" cy="949.2" r="2.55"/><circle cx="651.4" cy="945.4" r="2.55"/><circle cx="661.6" cy="941.6" r="2.55"/><circle cx="663.7" cy="941.4" r="2.55"/><circle cx="665.7" cy="944.6" r="2.55"/><circle cx="667.7" cy="943.6" r="2.55"/><circle cx="669.8" cy="944.6" r="2.55"/><circle cx="671.8" cy="954.8" r="2.55"/><circle cx="673.9" cy="949.9" r="2.55"/><circle cx="675.9" cy="948.8" r="2.55"/><circle cx="678.0" cy="942.5" r="2.55"/><circle cx="680.0" cy="951.4" r="2.55"/><circle cx="682.0" cy="958.8" r="2.55"/><circle cx="684.1" cy="960.8" r="2.55"/><circle cx="686.1" cy="977.2" r="2.55"/><circle cx="688.2" cy="968.1" r="2.55"/><circle cx="690.2" cy="966.7" r="2.55"/><circle cx="692.2" cy="960.8" r="2.55"/><circle cx="694.3" cy="957.9" r="2.55"/><circle cx="696.3" cy="957.6" r="2.55"/><circle cx="698.4" cy="956.2" r="2.55"/><circle cx="700.4" cy="967.0" r="2.55"/><circle cx="702.4" cy="958.9" r="2.55"/><circle cx="704.5" cy="954.3" r="2.55"/><circle cx="706.5" cy="955.8" r="2.55"/><circle cx="708.6" cy="946.4" r="2.55"/><circle cx="710.6" cy="949.7" r="2.55"/><circle cx="712.7" cy="955.1" r="2.55"/><circle cx="714.7" cy="957.2" r="2.55"/><circle cx="716.7" cy="945.3" r="2.55"/><circle cx="718.8" cy="950.3" r="2.55"/><circle cx="720.8" cy="953.6" r="2.55"/><circle cx="722.9" cy="955.4" r="2.55"/><circle cx="724.9" cy="954.6" r="2.55"/><circle cx="726.9" cy="957.4" r="2.55"/><circle cx="729.0" cy="962.5" r="2.55"/><circle cx="731.0" cy="963.1" r="2.55"/><circle cx="733.1" cy="965.5" r="2.55"/><circle cx="735.1" cy="965.1" r="2.55"/><circle cx="737.1" cy="961.9" r="2.55"/><circle cx="739.2" cy="961.4" r="2.55"/><circle cx="741.2" cy="959.0" r="2.55"/><circle cx="743.3" cy="958.2" r="2.55"/><circle cx="745.3" cy="970.2" r="2.55"/><circle cx="747.4" cy="966.6" r="2.55"/><circle cx="749.4" cy="972.3" r="2.55"/><circle cx="751.4" cy="976.9" r="2.55"/><circle cx="753.5" cy="980.0" r="2.55"/><circle cx="755.5" cy="972.0" r="2.55"/><circle cx="757.6" cy="968.7" r="2.55"/><circle cx="759.6" cy="975.3" r="2.55"/><circle cx="761.6" cy="967.2" r="2.55"/><circle cx="763.7" cy="970.0" r="2.55"/><circle cx="765.7" cy="971.6" r="2.55"/><circle cx="767.8" cy="967.6" r="2.55"/><circle cx="769.8" cy="966.6" r="2.55"/><circle cx="771.8" cy="967.6" r="2.55"/><circle cx="773.9" cy="958.7" r="2.55"/><circle cx="775.9" cy="959.2" r="2.55"/><circle cx="778.0" cy="959.2" r="2.55"/><circle cx="780.0" cy="956.8" r="2.55"/><circle cx="782.1" cy="955.4" r="2.55"/><circle cx="784.1" cy="948.5" r="2.55"/><circle cx="802.5" cy="944.9" r="2.55"/><circle cx="804.5" cy="948.3" r="2.55"/><circle cx="806.5" cy="946.1" r="2.55"/><circle cx="808.6" cy="942.9" r="2.55"/><circle cx="810.6" cy="941.4" r="2.55"/><circle cx="812.7" cy="943.4" r="2.55"/><circle cx="814.7" cy="950.4" r="2.55"/><circle cx="816.8" cy="944.1" r="2.55"/><circle cx="818.8" cy="943.6" r="2.55"/><circle cx="822.9" cy="954.9" r="2.55"/><circle cx="824.9" cy="955.7" r="2.55"/><circle cx="827.0" cy="955.3" r="2.55"/><circle cx="829.0" cy="954.9" r="2.55"/><circle cx="831.0" cy="958.4" r="2.55"/><circle cx="833.1" cy="951.6" r="2.55"/><circle cx="835.1" cy="951.6" r="2.55"/><circle cx="837.2" cy="958.1" r="2.55"/><circle cx="839.2" cy="952.3" r="2.55"/><circle cx="841.2" cy="958.3" r="2.55"/><circle cx="843.3" cy="957.4" r="2.55"/><circle cx="845.3" cy="961.7" r="2.55"/><circle cx="847.4" cy="958.3" r="2.55"/><circle cx="849.4" cy="969.0" r="2.55"/><circle cx="851.5" cy="966.9" r="2.55"/><circle cx="853.5" cy="967.5" r="2.55"/><circle cx="855.5" cy="978.3" r="2.55"/><circle cx="857.6" cy="974.4" r="2.55"/><circle cx="859.6" cy="982.3" r="2.55"/><circle cx="861.7" cy="967.7" r="2.55"/><circle cx="863.7" cy="961.0" r="2.55"/><circle cx="865.7" cy="959.1" r="2.55"/><circle cx="867.8" cy="960.8" r="2.55"/><circle cx="869.8" cy="953.0" r="2.55"/><circle cx="871.9" cy="953.9" r="2.55"/><circle cx="873.9" cy="953.4" r="2.55"/><circle cx="875.9" cy="946.7" r="2.55"/><circle cx="878.0" cy="948.2" r="2.55"/><circle cx="880.0" cy="944.0" r="2.55"/><circle cx="884.1" cy="944.6" r="2.55"/><circle cx="886.2" cy="941.9" r="2.55"/><circle cx="906.6" cy="942.2" r="2.55"/><circle cx="937.2" cy="951.6" r="2.55"/><circle cx="939.2" cy="944.0" r="2.55"/><circle cx="941.3" cy="952.2" r="2.55"/><circle cx="943.3" cy="946.4" r="2.55"/><circle cx="945.4" cy="940.9" r="2.55"/><circle cx="951.5" cy="944.7" r="2.55"/><circle cx="953.5" cy="950.3" r="2.55"/><circle cx="955.6" cy="954.1" r="2.55"/><circle cx="957.6" cy="951.9" r="2.55"/><circle cx="959.6" cy="959.0" r="2.55"/><circle cx="961.7" cy="960.3" r="2.55"/><circle cx="963.7" cy="965.8" r="2.55"/><circle cx="965.8" cy="970.0" r="2.55"/><circle cx="967.8" cy="977.9" r="2.55"/><circle cx="969.8" cy="977.8" r="2.55"/><circle cx="971.9" cy="954.1" r="2.55"/><circle cx="973.9" cy="944.7" r="2.55"/><circle cx="976.0" cy="941.8" r="2.55"/><circle cx="982.1" cy="945.0" r="2.55"/><circle cx="984.1" cy="945.1" r="2.55"/><circle cx="992.3" cy="946.9" r="2.55"/><circle cx="994.3" cy="941.1" r="2.55"/><circle cx="996.4" cy="942.0" r="2.55"/><circle cx="998.4" cy="950.9" r="2.55"/><circle cx="1000.5" cy="945.3" r="2.55"/><circle cx="1002.5" cy="941.6" r="2.55"/><circle cx="1004.5" cy="947.6" r="2.55"/><circle cx="1006.6" cy="940.3" r="2.55"/><circle cx="1008.6" cy="947.1" r="2.55"/><circle cx="1012.7" cy="943.6" r="2.55"/><circle cx="1139.3" cy="943.5" r="2.55"/><circle cx="1141.3" cy="950.0" r="2.55"/><circle cx="1143.3" cy="944.0" r="2.55"/><circle cx="1145.4" cy="940.6" r="2.55"/><circle cx="1167.8" cy="950.7" r="2.55"/><circle cx="1169.9" cy="946.6" r="2.55"/></g>
<g fill="#dff04a"><circle cx="439.4" cy="987.5" r="2.55"/><circle cx="447.7" cy="985.3" r="2.55"/><circle cx="471.4" cy="986.7" r="2.55"/><circle cx="750.3" cy="989.9" r="2.55"/></g>
<g fill="#12b8cb"><circle cx="96.2" cy="894.4" r="2.55"/><circle cx="98.3" cy="895.9" r="2.55"/><circle cx="1049.5" cy="887.0" r="2.55"/><circle cx="1051.5" cy="880.2" r="2.55"/><circle cx="1053.5" cy="886.2" r="2.55"/><circle cx="1055.6" cy="881.5" r="2.55"/><circle cx="1057.6" cy="879.3" r="2.55"/><circle cx="1059.7" cy="877.5" r="2.55"/><circle cx="1061.7" cy="895.9" r="2.55"/><circle cx="1065.8" cy="892.8" r="2.55"/><circle cx="1067.8" cy="892.1" r="2.55"/><circle cx="1069.9" cy="892.1" r="2.55"/><circle cx="1112.7" cy="891.3" r="2.55"/><circle cx="1114.8" cy="893.4" r="2.55"/><circle cx="1118.9" cy="893.3" r="2.55"/><circle cx="1120.9" cy="893.0" r="2.55"/><circle cx="1192.3" cy="892.9" r="2.55"/><circle cx="1194.4" cy="889.7" r="2.55"/><circle cx="1196.4" cy="894.6" r="2.55"/></g>
<g fill="#e6f53c"><circle cx="96.2" cy="894.4" r="0.7"/><circle cx="98.3" cy="895.9" r="0.7"/><circle cx="1049.5" cy="887.0" r="0.7"/><circle cx="1051.5" cy="880.2" r="0.7"/><circle cx="1053.5" cy="886.2" r="0.7"/><circle cx="1055.6" cy="881.5" r="0.7"/><circle cx="1057.6" cy="879.3" r="0.7"/><circle cx="1059.7" cy="877.5" r="0.7"/><circle cx="1061.7" cy="895.9" r="0.7"/><circle cx="1065.8" cy="892.8" r="0.7"/><circle cx="1067.8" cy="892.1" r="0.7"/><circle cx="1069.9" cy="892.1" r="0.7"/><circle cx="1112.7" cy="891.3" r="0.7"/><circle cx="1114.8" cy="893.4" r="0.7"/><circle cx="1118.9" cy="893.3" r="0.7"/><circle cx="1120.9" cy="893.0" r="0.7"/><circle cx="1192.3" cy="892.9" r="0.7"/><circle cx="1194.4" cy="889.7" r="0.7"/><circle cx="1196.4" cy="894.6" r="0.7"/></g>
<text x="27.0" y="893.5" font-size="17" fill="#6c6d76" stroke="#6c6d76" stroke-width="0.3" textLength="19.0" lengthAdjust="spacingAndGlyphs">BA</text>
<g><circle cx="54.3" cy="883.6" r="2.8" fill="#b9b9c0"/><circle cx="66.7" cy="883.6" r="2.8" fill="#b9b9c0"/><circle cx="60.5" cy="889" r="7.4" fill="#e2544f"/><ellipse cx="60.5" cy="891.5" rx="3.2" ry="2.3" fill="#f08a86"/></g>
<text x="72.9" y="893.5" font-size="17" fill="#6c6d76" stroke="#6c6d76" stroke-width="0.3" textLength="24.4" lengthAdjust="spacingAndGlyphs">HE</text>
<text x="102.3" y="893.5" font-size="17" fill="#6c6d76" stroke="#6c6d76" stroke-width="0.3" textLength="42.5" lengthAdjust="spacingAndGlyphs">(DFA)</text>
<text x="149.8" y="893.5" font-size="17" fill="#6c6d76" stroke="#6c6d76" stroke-width="0.3" textLength="40.8" lengthAdjust="spacingAndGlyphs">(ALL,</text>
<text x="195.6" y="893.5" font-size="17" fill="#6c6d76" stroke="#6c6d76" stroke-width="0.3" textLength="35.6" lengthAdjust="spacingAndGlyphs">300,</text>
<text x="236.2" y="893.5" font-size="17" fill="#6c6d76" stroke="#6c6d76" stroke-width="0.3" textLength="35.6" lengthAdjust="spacingAndGlyphs">100,</text>
<text x="276.8" y="893.5" font-size="17" fill="#6c6d76" stroke="#6c6d76" stroke-width="0.3" textLength="25.2" lengthAdjust="spacingAndGlyphs">18,</text>
<text x="307.0" y="893.5" font-size="17" fill="#6c6d76" stroke="#6c6d76" stroke-width="0.3" textLength="16.0" lengthAdjust="spacingAndGlyphs">8,</text>
<text x="328.0" y="893.5" font-size="17" fill="#6c6d76" stroke="#6c6d76" stroke-width="0.3" textLength="16.6" lengthAdjust="spacingAndGlyphs">2,</text>
<text x="349.6" y="893.5" font-size="17" fill="#6c6d76" stroke="#6c6d76" stroke-width="0.3" textLength="62.4" lengthAdjust="spacingAndGlyphs">Circles,</text>
<text x="417.0" y="893.5" font-size="17" fill="#6c6d76" stroke="#6c6d76" stroke-width="0.3" textLength="15.7" lengthAdjust="spacingAndGlyphs">1,</text>
<text x="437.7" y="893.5" font-size="17" fill="#6c6d76" stroke="#6c6d76" stroke-width="0.3" textLength="16.6" lengthAdjust="spacingAndGlyphs">1,</text>
<text x="459.3" y="893.5" font-size="17" fill="#6c6d76" stroke="#6c6d76" stroke-width="0.3" textLength="28.7" lengthAdjust="spacingAndGlyphs">On,</text>
<text x="493.0" y="893.5" font-size="17" fill="#6c6d76" stroke="#6c6d76" stroke-width="0.3" textLength="29.5" lengthAdjust="spacingAndGlyphs">On,</text>
<text x="527.5" y="893.5" font-size="17" fill="#6c6d76" stroke="#6c6d76" stroke-width="0.3" textLength="60.5" lengthAdjust="spacingAndGlyphs">normal)</text>
<text x="600.2" y="893.5" font-size="17" fill="#12b8cb" stroke="#12b8cb" stroke-width="0.3" textLength="43.7" lengthAdjust="spacingAndGlyphs">0.594</text>
<text x="655.0" y="893.5" font-size="17" fill="#fff" stroke="#fff" stroke-width="0.3" textLength="44.0" lengthAdjust="spacingAndGlyphs">0.662</text>
<text x="710.0" y="893.5" font-size="17" fill="#fff" stroke="#fff" stroke-width="0.3" textLength="44.5" lengthAdjust="spacingAndGlyphs">0.338</text>
<text x="768.0" y="893.5" font-size="14" fill="#5d5e66" stroke="#5d5e66" stroke-width="0.3">∅</text>
<rect x="1316.5" y="885.5" width="259" height="95.7" fill="#fff" stroke="#000" stroke-width="3"/>
<rect x="1318" y="887" width="174.8" height="44" fill="#bcbec6"/><rect x="1318" y="936" width="174.8" height="43.7" fill="#bcbec6"/>
<rect x="1497.8" y="887" width="76.2" height="44" fill="#e9f3fb"/><rect x="1497.8" y="936" width="76.2" height="43.7" fill="#e9f3fb"/>
<text x="1330.0" y="916.0" font-size="21" fill="#fff" stroke="#fff" stroke-width="0.3" textLength="150.7" lengthAdjust="spacingAndGlyphs">Hurst Exponent:</text>
<text x="1509.5" y="916.0" font-size="21" fill="#12b5c8" stroke="#12b5c8" stroke-width="0.3" textLength="52.5" lengthAdjust="spacingAndGlyphs">0.594</text>
<text x="1377.5" y="965.3" font-size="21" fill="#fff" stroke="#fff" stroke-width="0.3" textLength="56.0" lengthAdjust="spacingAndGlyphs">State:</text>
<text x="1509.5" y="965.3" font-size="21" fill="#12b5c8" stroke="#12b5c8" stroke-width="0.3" textLength="52.5" lengthAdjust="spacingAndGlyphs">Trend</text>
<rect x="15" y="1033" width="1574" height="66" fill="#f1ecf8"/>
<path d="M16 1016.5H1589M16 1082.5H1589" stroke="#e6e3f0" stroke-width="1" fill="none"/>
<path d="M145.5 1003V1126" stroke="#e6e9f3" stroke-width="1" fill="none"/>
<path d="M331.5 1003V1126" stroke="#e6e9f3" stroke-width="1" fill="none"/>
<path d="M518.5 1003V1126" stroke="#e6e9f3" stroke-width="1" fill="none"/>
<path d="M706.5 1003V1126" stroke="#e6e9f3" stroke-width="1" fill="none"/>
<path d="M890.5 1003V1126" stroke="#e6e9f3" stroke-width="1" fill="none"/>
<path d="M1075.5 1003V1126" stroke="#e6e9f3" stroke-width="1" fill="none"/>
<path d="M1263.5 1003V1126" stroke="#e6e9f3" stroke-width="1" fill="none"/>
<path d="M1451.5 1003V1126" stroke="#e6e9f3" stroke-width="1" fill="none"/>
<path d="M15 1032.5H1589M15 1099.5H1589" stroke="#6f7282" stroke-width="1" stroke-dasharray="6.5 4.5" fill="none"/>
<path d="M15 1065.5H1589" stroke="#a9abb5" stroke-width="1" stroke-dasharray="6.5 4.5" fill="none"/>
<path d="M15.0 1076.9L16.7 1059.6L20.2 1058.8L23.6 1063.1L28.8 1045.8L30.6 1047.5L35.7 1040.6L38.3 1025.9L42.6 1032.0L46.1 1026.8L49.6 1029.4L52.2 1030.2L56.5 1023.3L60.8 1017.3L66.0 1015.6L67.7 1038.0L69.4 1055.3L71.2 1053.6L74.6 1064.8L78.1 1066.5L79.8 1069.1L81.5 1055.3L84.1 1057.0L85.8 1053.6L87.6 1060.5L92.8 1057.9L97.9 1040.6L103.1 1034.6L106.6 1029.4L109.2 1051.0L114.4 1044.1L118.7 1049.2L122.1 1050.1L125.6 1063.9L129.9 1074.3L133.4 1059.6L137.7 1056.2L140.3 1047.5L147.2 1047.5L148.9 1055.3L152.4 1050.1L155.0 1057.9L157.6 1065.7L160.2 1057.0L163.6 1050.1L167.9 1048.4L169.7 1036.3L174.0 1040.6L176.6 1055.3L180.0 1074.3L182.6 1073.4L187.8 1089.0L191.3 1091.6L193.3 1096.8L196.4 1071.7L199.0 1068.3L201.6 1072.6L204.2 1057.0L206.8 1057.0L208.5 1061.3L211.1 1073.4L213.7 1060.5L216.3 1062.2L220.6 1055.3L224.1 1063.1L225.8 1067.4L228.4 1084.7L231.0 1083.8L234.5 1090.7L237.9 1094.2L241.4 1101.1L242.8 1109.7L244.5 1094.2L247.4 1099.4L250.4 1102.8L252.6 1089.9L256.9 1085.5L260.4 1088.1L262.1 1094.2L267.3 1084.7L269.9 1084.7L273.3 1076.0L276.8 1083.8L279.4 1085.5L282.5 1090.7L284.6 1074.3L288.0 1074.3L291.5 1074.3L294.9 1059.6L298.4 1061.3L301.8 1070.8L305.3 1076.0L308.8 1086.4L310.5 1089.9L313.9 1081.2L315.0 1076.0L317.6 1085.5L320.2 1081.2L321.9 1071.7L324.5 1070.8L327.1 1065.7L330.6 1075.2L333.1 1072.6L335.7 1066.5L339.2 1072.6L340.9 1070.8L345.2 1076.9L347.0 1072.6L350.4 1070.0L352.2 1073.4L356.5 1076.0L358.2 1079.5L361.7 1083.8L365.1 1080.4L368.6 1090.7L371.2 1076.0L374.6 1061.3L378.1 1055.3L381.5 1039.7L385.0 1032.0L389.3 1025.1L391.9 1032.0L397.1 1054.4L401.4 1043.2L404.9 1032.0L409.2 1027.6L412.6 1033.7L415.2 1040.6L418.3 1030.2L421.3 1037.2L423.9 1039.7L425.6 1051.0L429.0 1051.0L432.5 1033.7L435.1 1037.2L437.7 1034.6L440.3 1046.7L442.9 1044.1L445.5 1055.3L447.2 1046.7L451.5 1048.4L453.2 1058.8L455.8 1056.2L459.3 1049.2L463.6 1042.3L466.2 1034.6L467.9 1047.5L469.7 1068.3L472.2 1071.7L474.8 1070.0L476.6 1076.0L480.0 1070.8L481.8 1075.2L483.5 1063.1L486.1 1058.8L489.5 1062.2L492.1 1058.8L494.7 1070.8L497.8 1090.7L499.9 1076.0L502.5 1071.7L505.1 1077.8L507.7 1076.0L512.0 1083.8L514.6 1079.5L517.2 1051.8L519.8 1053.6L524.1 1047.5L527.9 1031.1L530.1 1038.9L533.6 1036.3L536.2 1037.2L538.3 1031.1L539.6 1038.0L544.0 1033.7L547.4 1025.1L549.1 1029.4L554.3 1025.9L556.6 1018.1L558.6 1031.1L560.7 1046.7L564.7 1044.9L566.9 1041.5L569.0 1053.6L571.1 1061.3L573.3 1054.4L575.9 1049.2L579.4 1053.6L582.0 1055.3L583.7 1047.5L587.2 1055.3L589.4 1058.8L592.3 1052.7L595.3 1036.3L598.4 1038.9L600.1 1049.2L603.6 1052.7L607.0 1048.4L609.6 1055.3L611.4 1071.7L615.0 1078.6L615.0 1079.5L616.7 1084.7L619.3 1071.7L621.9 1074.3L624.0 1082.9L627.1 1078.6L630.2 1072.6L633.1 1087.3L635.7 1071.7L639.2 1070.0L642.6 1072.6L645.2 1075.2L648.7 1093.3L650.4 1095.0L653.9 1089.0L656.5 1089.0L659.1 1097.6L661.3 1098.2L664.2 1082.9L666.8 1091.6L668.9 1084.7L672.0 1082.1L674.6 1089.0L679.8 1085.5L683.3 1075.2L685.8 1074.3L687.6 1064.8L690.2 1064.8L691.9 1065.7L693.6 1064.8L696.2 1064.8L697.9 1081.2L700.5 1084.7L703.1 1083.8L706.6 1076.0L709.2 1081.2L711.8 1084.7L714.4 1093.3L718.7 1099.9L723.9 1097.6L726.5 1086.4L728.7 1080.4L730.4 1086.4L732.5 1082.6L736.8 1082.9L738.6 1086.4L741.1 1086.4L743.7 1094.2L746.3 1108.0L748.4 1114.4L750.6 1106.3L753.2 1099.9L756.7 1098.5L759.3 1091.6L761.9 1086.4L764.5 1084.7L767.1 1081.2L769.3 1079.5L771.0 1089.9L773.1 1081.2L775.4 1055.3L778.3 1053.6L781.8 1043.2L786.1 1041.5L788.7 1056.2L792.1 1058.8L795.6 1049.2L797.8 1044.6L800.2 1055.3L802.5 1072.6L805.9 1076.0L809.9 1089.9L812.0 1082.1L814.6 1082.9L818.0 1071.7L820.6 1072.6L822.0 1080.4L824.1 1055.3L826.7 1046.7L830.1 1055.3L832.4 1070.8L835.3 1072.6L838.8 1076.9L841.0 1067.4L843.1 1057.9L844.8 1070.0L848.3 1071.7L850.9 1075.2L853.5 1069.1L856.1 1060.5L858.6 1059.6L862.5 1055.0L866.4 1060.5L869.0 1054.4L871.6 1051.8L874.2 1046.7L877.7 1044.1L879.4 1034.6L883.2 1032.0L885.4 1037.2L888.0 1048.4L891.5 1046.7L894.9 1044.9L897.5 1057.0L900.1 1069.1L902.7 1070.8L906.2 1076.0L910.5 1089.0L913.1 1078.6L915.0 1077.8L915.0 1080.4L918.5 1079.5L922.8 1082.9L924.5 1072.6L928.0 1069.1L931.4 1078.6L935.7 1082.1L938.3 1074.3L940.6 1086.4L942.6 1076.0L945.2 1074.3L948.2 1084.7L951.3 1079.5L955.6 1082.9L957.0 1068.3L958.2 1084.7L962.5 1089.9L965.1 1098.5L967.4 1107.1L968.9 1102.0L971.2 1105.8L974.6 1104.5L977.6 1096.8L979.8 1088.1L981.5 1093.3L984.1 1089.9L985.8 1092.4L987.2 1084.7L989.7 1088.1L993.1 1082.1L995.4 1085.5L997.9 1082.9L1001.4 1084.7L1003.5 1086.4L1006.6 1083.8L1009.2 1063.9L1012.6 1063.9L1014.4 1075.2L1016.1 1072.6L1018.3 1075.2L1022.1 1072.6L1024.7 1063.1L1027.3 1067.4L1029.4 1071.7L1032.5 1079.5L1035.1 1082.9L1036.8 1096.8L1038.0 1108.0L1042.0 1104.5L1043.7 1110.6L1046.7 1110.6L1048.1 1114.0L1050.1 1100.2L1053.2 1099.9L1056.7 1102.0L1058.8 1091.6L1063.3 1088.5L1067.1 1092.4L1070.5 1095.0L1074.8 1099.4L1079.2 1099.9L1080.9 1087.3L1086.1 1082.9L1087.8 1069.1L1092.1 1069.1L1095.6 1085.5L1097.3 1089.9L1099.6 1079.5L1102.5 1074.3L1105.1 1068.3L1107.7 1070.8L1109.9 1055.3L1111.6 1045.8L1115.4 1048.4L1118.0 1055.3L1121.5 1057.0L1123.2 1071.7L1126.7 1071.7L1127.9 1055.3L1131.0 1046.7L1134.5 1049.2L1137.9 1054.4L1141.4 1059.6L1144.0 1063.1L1146.6 1055.3L1148.6 1059.6L1150.9 1055.3L1153.5 1050.1L1154.8 1058.8L1156.9 1051.0L1159.5 1050.1L1162.5 1045.3L1165.6 1047.5L1168.2 1053.6L1172.5 1065.7L1174.2 1093.3L1177.7 1082.9L1182.0 1083.8L1184.6 1082.9L1187.7 1080.4L1189.8 1093.3L1193.2 1099.9L1195.3 1086.4L1196.7 1090.7L1199.8 1085.5" stroke="#9b59c0" stroke-width="1.4" fill="none" stroke-linejoin="round"/>
<path d="M15.0 1059.6L20.2 1063.1L26.2 1064.8L34.0 1057.9L42.6 1046.7L52.2 1035.4L59.9 1027.6L65.1 1025.6L72.0 1031.1L80.7 1042.3L89.3 1053.6L95.4 1058.8L101.4 1055.3L109.2 1047.5L117.0 1043.2L123.0 1042.9L129.0 1049.2L136.0 1056.2L142.9 1056.7L151.5 1057.9L160.2 1054.4L167.1 1051.8L174.0 1050.5L180.9 1053.6L187.8 1059.6L194.7 1068.3L200.8 1075.2L205.1 1076.9L212.0 1074.7L218.9 1068.3L224.1 1064.3L231.0 1065.7L237.9 1072.6L244.8 1082.1L251.7 1091.6L256.9 1094.2L263.8 1095.0L270.7 1091.6L277.7 1087.3L284.6 1085.5L291.5 1081.2L300.1 1076.0L308.8 1074.3L315.0 1074.3L321.9 1076.9L330.6 1077.8L340.9 1074.3L350.4 1071.4L359.9 1074.3L370.3 1078.6L378.1 1075.2L384.1 1066.5L391.0 1054.4L399.7 1044.1L408.3 1037.2L417.0 1037.2L425.6 1038.0L436.0 1037.7L444.6 1041.5L453.2 1045.3L463.6 1046.7L470.5 1051.0L479.2 1057.9L487.8 1061.3L494.7 1067.4L501.6 1070.8L508.5 1071.7L515.4 1075.2L522.4 1073.4L529.3 1063.9L537.9 1051.8L546.6 1040.6L553.5 1032.8L558.6 1032.0L567.3 1034.6L575.9 1041.5L584.6 1049.2L591.5 1051.8L600.1 1050.5L608.8 1050.5L615.0 1054.4L621.9 1060.5L628.8 1069.1L635.7 1076.0L644.4 1077.2L653.0 1081.2L661.7 1084.7L670.3 1088.1L675.5 1089.9L684.1 1087.3L691.0 1081.2L697.9 1076.9L704.9 1075.5L710.0 1074.3L715.2 1077.8L720.4 1083.8L725.6 1088.1L734.2 1089.0L742.9 1089.9L751.5 1092.4L758.4 1094.7L765.3 1095.4L773.1 1094.2L779.2 1084.7L786.1 1069.1L793.0 1061.3L800.8 1053.6L806.8 1057.9L813.7 1066.5L820.6 1071.7L827.5 1072.2L834.5 1070.8L841.4 1067.4L848.3 1066.0L855.2 1067.4L858.6 1069.1L865.6 1065.7L874.2 1060.5L881.1 1052.7L888.0 1046.7L895.8 1043.2L901.8 1045.8L908.8 1057.0L915.0 1065.7L921.9 1074.3L930.6 1078.6L939.2 1078.6L949.6 1078.6L959.9 1080.4L970.3 1088.1L978.9 1093.3L987.6 1096.3L994.5 1094.2L1001.4 1089.0L1010.0 1082.9L1018.7 1078.6L1025.6 1075.2L1032.5 1072.2L1036.0 1073.4L1042.9 1084.7L1051.5 1095.0L1058.4 1100.2L1063.6 1102.0L1070.5 1098.5L1079.2 1095.0L1087.8 1089.9L1094.7 1087.3L1101.6 1082.9L1108.5 1074.3L1115.4 1068.3L1122.4 1064.8L1129.3 1058.8L1136.2 1055.0L1141.4 1056.2L1146.6 1057.9L1153.5 1055.3L1160.4 1055.0L1167.3 1054.4L1172.5 1054.4L1177.7 1058.8L1184.6 1066.5L1189.8 1074.3L1194.9 1082.1L1199.3 1086.4" stroke="#dff03c" stroke-width="1.5" fill="none" stroke-linejoin="round"/>
<text x="28.0" y="1031.5" font-size="17" fill="#63666f" stroke="#63666f" stroke-width="0.3" textLength="25.2" lengthAdjust="spacingAndGlyphs">RSI</text>
<text x="58.2" y="1031.5" font-size="17" fill="#63666f" stroke="#63666f" stroke-width="0.3" textLength="31.3" lengthAdjust="spacingAndGlyphs">(14,</text>
<text x="94.5" y="1031.5" font-size="17" fill="#63666f" stroke="#63666f" stroke-width="0.3" textLength="47.7" lengthAdjust="spacingAndGlyphs">close,</text>
<text x="147.2" y="1031.5" font-size="17" fill="#63666f" stroke="#63666f" stroke-width="0.3" textLength="39.9" lengthAdjust="spacingAndGlyphs">SMA,</text>
<text x="192.1" y="1031.5" font-size="17" fill="#63666f" stroke="#63666f" stroke-width="0.3" textLength="25.3" lengthAdjust="spacingAndGlyphs">14,</text>
<text x="222.4" y="1031.5" font-size="17" fill="#63666f" stroke="#63666f" stroke-width="0.3" textLength="14.6" lengthAdjust="spacingAndGlyphs">2)</text>
<text x="249.5" y="1031.5" font-size="17" fill="#9b59c0" stroke="#9b59c0" stroke-width="0.3" textLength="42.5" lengthAdjust="spacingAndGlyphs">37.48</text>
<text x="303.8" y="1031.5" font-size="17" fill="#d7ea3a" stroke="#d7ea3a" stroke-width="0.3" textLength="42.7" lengthAdjust="spacingAndGlyphs">37.01</text>
<text x="360.0" y="1031.5" font-size="14" fill="#63666f" stroke="#63666f" stroke-width="0.3">∅</text>
<text x="382.5" y="1031.5" font-size="14" fill="#63666f" stroke="#63666f" stroke-width="0.3">∅</text>
<path d="M1589.5 42V1180M15 1126.5H1721" stroke="#707892" stroke-width="1" fill="none"/>
<text x="1605.7" y="72.0" font-size="24" fill="#4f525d" stroke="#4f525d" stroke-width="0.3" textLength="41.0" lengthAdjust="spacingAndGlyphs">USD</text>
<text x="1607.5" y="127.7" font-size="24.5" fill="#4f525d" stroke="#4f525d" stroke-width="0.3" textLength="96.0" lengthAdjust="spacingAndGlyphs">70000.00</text>
<text x="1607.5" y="190.1" font-size="24.5" fill="#4f525d" stroke="#4f525d" stroke-width="0.3" textLength="96.0" lengthAdjust="spacingAndGlyphs">65000.00</text>
<text x="1607.5" y="252.5" font-size="24.5" fill="#4f525d" stroke="#4f525d" stroke-width="0.3" textLength="96.0" lengthAdjust="spacingAndGlyphs">60000.00</text>
<text x="1607.5" y="314.9" font-size="24.5" fill="#4f525d" stroke="#4f525d" stroke-width="0.3" textLength="96.0" lengthAdjust="spacingAndGlyphs">55000.00</text>
<text x="1607.5" y="377.3" font-size="24.5" fill="#4f525d" stroke="#4f525d" stroke-width="0.3" textLength="96.0" lengthAdjust="spacingAndGlyphs">50000.00</text>
<text x="1607.5" y="439.6" font-size="24.5" fill="#4f525d" stroke="#4f525d" stroke-width="0.3" textLength="96.0" lengthAdjust="spacingAndGlyphs">45000.00</text>
<text x="1607.5" y="502.0" font-size="24.5" fill="#4f525d" stroke="#4f525d" stroke-width="0.3" textLength="96.0" lengthAdjust="spacingAndGlyphs">40000.00</text>
<text x="1607.5" y="564.4" font-size="24.5" fill="#4f525d" stroke="#4f525d" stroke-width="0.3" textLength="96.0" lengthAdjust="spacingAndGlyphs">35000.00</text>
<text x="1607.5" y="626.8" font-size="24.5" fill="#4f525d" stroke="#4f525d" stroke-width="0.3" textLength="96.0" lengthAdjust="spacingAndGlyphs">30000.00</text>
<text x="1607.5" y="689.2" font-size="24.5" fill="#4f525d" stroke="#4f525d" stroke-width="0.3" textLength="96.0" lengthAdjust="spacingAndGlyphs">25000.00</text>
<text x="1607.5" y="814.0" font-size="24.5" fill="#4f525d" stroke="#4f525d" stroke-width="0.3" textLength="96.0" lengthAdjust="spacingAndGlyphs">15000.00</text>
<text x="1607.5" y="949.0" font-size="24" fill="#4f525d" stroke="#4f525d" stroke-width="0.3" textLength="58.0" lengthAdjust="spacingAndGlyphs">0.500</text>
<text x="1607.5" y="1023.7" font-size="24" fill="#4f525d" stroke="#4f525d" stroke-width="0.3" textLength="58.0" lengthAdjust="spacingAndGlyphs">80.00</text>
<text x="1607.5" y="1090.0" font-size="24" fill="#4f525d" stroke="#4f525d" stroke-width="0.3" textLength="58.0" lengthAdjust="spacingAndGlyphs">40.00</text>
<text x="128.0" y="1159.0" font-size="24" fill="#4f525d" stroke="#4f525d" stroke-width="0.3" textLength="33.0" lengthAdjust="spacingAndGlyphs">Avr</text>
<text x="307.8" y="1159.0" font-size="24" fill="#4f525d" stroke="#4f525d" stroke-width="0.3" textLength="44.5" lengthAdjust="spacingAndGlyphs">Juill</text>
<text x="499.5" y="1159.0" font-size="24" fill="#4f525d" stroke="#4f525d" stroke-width="0.3" textLength="37.0" lengthAdjust="spacingAndGlyphs">Oct</text>
<text x="678.6" y="1159.0" font-size="24" fill="#4f525d" stroke="#4f525d" stroke-width="0.3" textLength="54.0" lengthAdjust="spacingAndGlyphs" font-weight="bold">2022</text>
<text x="873.0" y="1159.0" font-size="24" fill="#4f525d" stroke="#4f525d" stroke-width="0.3" textLength="33.0" lengthAdjust="spacingAndGlyphs">Avr</text>
<text x="1052.8" y="1159.0" font-size="24" fill="#4f525d" stroke="#4f525d" stroke-width="0.3" textLength="44.5" lengthAdjust="spacingAndGlyphs">Juill</text>
<text x="1244.0" y="1159.0" font-size="24" fill="#4f525d" stroke="#4f525d" stroke-width="0.3" textLength="37.0" lengthAdjust="spacingAndGlyphs">Oct</text>
<text x="1423.8" y="1159.0" font-size="24" fill="#4f525d" stroke="#4f525d" stroke-width="0.3" textLength="54.0" lengthAdjust="spacingAndGlyphs" font-weight="bold">2023</text>
<rect x="1482" y="724.3" width="107" height="34.5" rx="2" fill="#1b7a52"/>
<rect x="1590" y="724.3" width="125.8" height="62.5" rx="2" fill="#1b7a52"/>
<text x="1494.0" y="749.7" font-size="24" fill="#fff" stroke="#fff" stroke-width="0.3" textLength="82.5" lengthAdjust="spacingAndGlyphs">BTCUSD</text>
<text x="1607.5" y="749.7" font-size="24" fill="#fff" stroke="#fff" stroke-width="0.3" textLength="96.0" lengthAdjust="spacingAndGlyphs">20112.40</text>
<text x="1607.5" y="777.3" font-size="24" fill="#d6ebe1" stroke="#d6ebe1" stroke-width="0.3" textLength="92.0" lengthAdjust="spacingAndGlyphs">07:25:50</text>
<path d="M15.2 1198.1H27V1212.7H20.7V1204H15.2Z M36.3 1198.1H44.4L39.4 1212.7H32.1Z" fill="#131722"/><circle cx="31.6" cy="1201.3" r="3.1" fill="#131722"/>
<text x="49.8" y="1213.4" font-size="19" fill="#131722" stroke="#131722" stroke-width="0.3" textLength="105.2" lengthAdjust="spacingAndGlyphs">TradingView</text>
</svg>
</body></html>
